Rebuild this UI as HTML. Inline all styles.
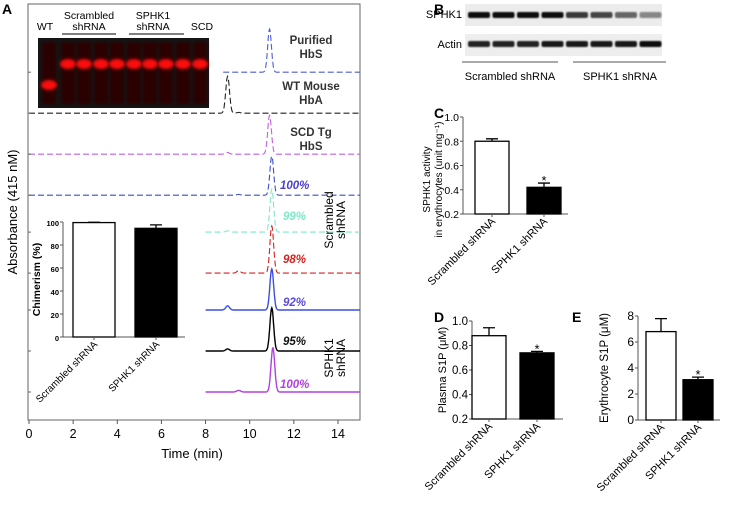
<!DOCTYPE html>
<html><head><meta charset="utf-8"><style>
html,body{margin:0;padding:0;background:#fff;}
svg{display:block;font-family:"Liberation Sans",Arial,sans-serif;}
</style></head><body>
<svg id="fig" width="756" height="506" viewBox="0 0 756 506" xmlns="http://www.w3.org/2000/svg">
<defs>
<filter id="blur" x="-50%" y="-50%" width="200%" height="200%"><feGaussianBlur stdDeviation="1.6"/></filter>
<filter id="blur2" x="-20%" y="-50%" width="140%" height="200%"><feGaussianBlur stdDeviation="0.9"/></filter>
</defs>
<g id="panelA">
<text x="2" y="14" font-size="14" font-weight="bold">A</text>
<rect x="28" y="4" width="332" height="416" fill="none" stroke="#666" stroke-width="1"/>
<text transform="translate(17,212) rotate(-90)" text-anchor="middle" font-size="13">Absorbance (415 nM)</text>
<text x="192" y="458" text-anchor="middle" font-size="13">Time (min)</text>
<g id="gel">
<rect x="38" y="38" width="171" height="70" fill="#151515"/>
</g>
<text x="45" y="30" text-anchor="middle" font-size="10.5">WT</text>
<text x="89" y="19" text-anchor="middle" font-size="10.5">Scrambled</text>
<text x="89" y="30" text-anchor="middle" font-size="10.5">shRNA</text>
<line x1="62" y1="34" x2="116" y2="34" stroke="#000"/>
<text x="153" y="19" text-anchor="middle" font-size="10.5">SPHK1</text>
<text x="153" y="30" text-anchor="middle" font-size="10.5">shRNA</text>
<line x1="129" y1="34" x2="184" y2="34" stroke="#000"/>
<text x="202" y="30" text-anchor="middle" font-size="10.5">SCD</text>
<g id="traces"></g>
<g id="xticks"></g>
<g font-size="11.5" font-weight="bold" text-anchor="middle" fill="#333">
<text x="311" y="44">Purified</text>
<text x="311" y="58">HbS</text>
<text x="311" y="90">WT Mouse</text>
<text x="311" y="104">HbA</text>
<text x="311" y="136">SCD Tg</text>
<text x="311" y="150">HbS</text>
</g>
<g font-size="11.5" font-weight="bold" font-style="italic">
<text x="280" y="189" fill="#4a3fd0">100%</text>
<text x="283" y="220" fill="#7ee8c8">99%</text>
<text x="283" y="263" fill="#d42020">98%</text>
<text x="283" y="306" fill="#5a4be0">92%</text>
<text x="283" y="345" fill="#111">95%</text>
<text x="280" y="388" fill="#b040e0">100%</text>
</g>
<text transform="translate(333,220) rotate(-90)" text-anchor="middle" font-size="12"><tspan x="0" dy="0">Scrambled</tspan><tspan x="0" dy="12">shRNA</tspan></text>
<text transform="translate(333,358) rotate(-90)" text-anchor="middle" font-size="12"><tspan x="0" dy="0">SPHK1</tspan><tspan x="0" dy="12">shRNA</tspan></text>
<g id="inset"></g>
</g>
<g id="panelB">
<text x="434" y="14" font-size="14" font-weight="bold">B</text>
<text x="462" y="18" text-anchor="end" font-size="11">SPHK1</text>
<text x="462" y="48" text-anchor="end" font-size="11">Actin</text>
<rect x="465" y="4" width="197" height="22" fill="#ececec"/>
<rect x="465" y="34" width="197" height="22" fill="#eeeeee"/>
<g id="bands"></g>
<line x1="462" y1="62" x2="558" y2="62" stroke="#555"/>
<line x1="573" y1="62" x2="666" y2="62" stroke="#555"/>
<text x="510" y="80" text-anchor="middle" font-size="11">Scrambled shRNA</text>
<text x="620" y="80" text-anchor="middle" font-size="11">SPHK1 shRNA</text>
</g>
<text x="434" y="118" font-size="14" font-weight="bold">C</text>
<text x="434" y="322" font-size="14" font-weight="bold">D</text>
<text x="572" y="322" font-size="14" font-weight="bold">E</text>
<g id="barC"></g><g id="barD"></g><g id="barE"></g>
</svg>
<script>
// ---- Panel A chromatogram data ----
const traceNames = ['purified-hbs','wt-mouse-hba','scd-tg-hbs','scr-100','scr-99','scr-98','sphk1-92','sphk1-95','sphk1-100'];
const traceOffsets = [0.78,0.68,0.58,0.48,0.39,0.29,0.20,0.10,0.0];
const tracePeakTime = [10.9,9.0,10.9,11.0,11.0,11.0,11.0,11.0,11.05];
const tracePeakHeight = [0.105,0.090,0.095,0.095,0.105,0.115,0.100,0.105,0.108];
const traceStart = [8.8,0,0,0,8,8,8,8,8];
const traceMinorTime = [9.5,9.5,9.0,9.5,9.0,9.5,9.0,9.0,9.5];
const traceMinorHeight = [0,0.002,0.004,0.002,0.003,0.006,0.010,0.005,0.004];
const traceColors = ['#4a5fd0','#222','#c060e0','#3a4fc8','#7ee8c8','#d42020','#3a4fe0','#000','#b040e0'];
const traceDashed = [1,1,1,1,1,1,0,0,0];
const xTicks = [0,2,4,6,8,10,12,14];
// inset
const insetCats = ['Scrambled shRNA','SPHK1 shRNA'];
const insetVals = [99.5,94.5];
const insetErr = [0.3,3];
const insetTicks = [0,20,40,60,80,100];
// C/D/E
const catsCDE = ['Scrambled shRNA','SPHK1 shRNA'];
const valsC = [0.80,0.42], errC=[0.02,0.035], ticksC=[0.2,0.4,0.6,0.8,1.0];
const valsD = [0.88,0.74], errD=[0.065,0.012], ticksD=[0.2,0.4,0.6,0.8,1.0];
const valsE = [6.8,3.1], errE=[1.0,0.2], ticksE=[0,2,4,6,8];
const sphk1Band = [1,1,1,1,0.8,0.75,0.6,0.45];
const actinBand = [0.9,0.9,0.9,0.95,0.95,0.95,0.95,1];

const NS='http://www.w3.org/2000/svg';
function mk(t,a,p){const e=document.createElementNS(NS,t);for(const k in a)e.setAttribute(k,a[k]);p.appendChild(e);return e;}
const xA=t=>29+t*22.07;
const yA=v=>392-v*410;

const tg=document.getElementById('traces');
traceNames.forEach((n,i)=>{
  let d='';
  for(let t=traceStart[i];t<=15;t+=0.02){
    const g=tracePeakHeight[i]*Math.exp(-Math.pow((t-tracePeakTime[i])/0.12,2))+traceMinorHeight[i]*Math.exp(-Math.pow((t-traceMinorTime[i])/0.12,2));
    d+=(d?'L':'M')+xA(t).toFixed(1)+','+yA(traceOffsets[i]+g).toFixed(1);
  }
  const p=mk('path',{d:d,fill:'none',stroke:traceColors[i],'stroke-width':traceDashed[i]?1.1:1.4,'stroke-dasharray':traceDashed[i]?'6,3':'none'},tg);
  
  
  const tk=mk('line',{x1:28,x2:31,y1:yA(traceOffsets[i]),y2:yA(traceOffsets[i]),stroke:'#666'},tg);
  
  
});
const xg=document.getElementById('xticks');
xTicks.forEach(v=>{
  const l=mk('line',{x1:xA(v),x2:xA(v),y1:420,y2:424,stroke:'#555'},xg);
  
  
  const t=mk('text',{x:xA(v),y:438,'text-anchor':'middle','font-size':12.5},xg);
  t.textContent=v;
  
  
});
// gel bands
const gel=document.getElementById('gel');
const laneX=[49,68,84,101,117,134,150,166,183,200];
laneX.forEach((x,i)=>{
  const s=mk('rect',{x:x-7,y:42,width:14,height:62,fill:'#2a0505',filter:'url(#blur)'},gel);
  
  
  const b=mk('ellipse',{cx:x,cy:i==0?85:64,rx:8,ry:5,fill:'#ff1010',filter:'url(#blur)'},gel);
  
  
});
// blot bands
const bg=document.getElementById('bands');
for(let i=0;i<8;i++){
  const x=468+i*24.5;
  const a=mk('rect',{x:x,y:12,width:22,height:6,rx:2,fill:'#111',opacity:sphk1Band[i],filter:'url(#blur2)'},bg);
  
  
  const b=mk('rect',{x:x,y:41,width:22,height:6,rx:2,fill:'#111',opacity:actinBand[i],filter:'url(#blur2)'},bg);
  
  
}
// generic bar chart
function bars(g,o){
  const y=v=>o.y0-(v-o.vmin)/(o.vmax-o.vmin)*(o.y0-o.y1);
  const ax=mk('path',{d:`M${o.x0},${o.y1}V${o.y0}H${o.x2}`,fill:'none',stroke:'#555','stroke-width':1},g);
  
  
  o.ticks.forEach(v=>{
    const l=mk('line',{x1:o.x0-3,x2:o.x0,y1:y(v),y2:y(v),stroke:'#555'},g);
    
    
    const t=mk('text',{x:o.x0-4,y:y(v)+4,'text-anchor':'end','font-size':o.fs,'font-weight':o.bold?'bold':'normal'},g);
    t.textContent=o.fmt(v);
    
    
  });
  o.vals.forEach((v,i)=>{
    const bx=o.bx[i];
    const r=mk('rect',{x:bx,y:y(v),width:o.bw,height:o.y0-y(v),fill:i?'#000':'#fff',stroke:'#000','stroke-width':1.3},g);
    
    
    const cx=bx+o.bw/2, ye=y(v+o.err[i]);
    const e=mk('path',{d:`M${cx},${y(v)}V${ye}M${cx-6},${ye}H${cx+6}`,stroke:'#000','stroke-width':1.3,fill:'none'},g);
    
    
    const tk=mk('line',{x1:cx,x2:cx,y1:o.y0,y2:o.y0+3,stroke:'#555'},g);
    
    
    const t=mk('text',{transform:`translate(${cx+4},${o.y0+8}) rotate(-45)`,'text-anchor':'end','font-size':o.cfs},g);
    t.textContent=o.cats[i];
    
    
    if(i&&o.star){
      const s=mk('text',{x:cx,y:ye+2,'text-anchor':'middle','font-size':13},g);
      s.textContent='*';
      
      
    }
  });
  o.title.forEach((tt,k)=>{
    const t=mk('text',{transform:`translate(${o.tx+k*12},${(o.y0+o.y1)/2+(o.tdy||0)}) rotate(-90)`,'text-anchor':'middle','font-size':o.tfs,'font-weight':o.bold?'bold':'normal'},g);
    t.textContent=tt;
    
    
  });
}
bars(document.getElementById('inset'),{name:'inset',vals:insetVals,err:insetErr,cats:insetCats,ticks:insetTicks,vmin:0,vmax:100,x0:63,x2:185,y0:337,y1:222,bx:[73,135],bw:42,fs:7.5,cfs:10,bold:1,fmt:v=>v,title:['Chimerism (%)'],tx:40,tfs:10.5,star:0});
bars(document.getElementById('barC'),{name:'panel-c',vals:valsC,err:errC,cats:catsCDE,ticks:ticksC,vmin:0.2,vmax:1.0,x0:463,x2:568,y0:214,y1:117,bx:[475,527],bw:34,fs:10.5,cfs:11,fmt:v=>v.toFixed(1),title:['SPHK1 activity','in erythrocytes (unit mg⁻¹)'],tx:430,tfs:10,tdy:14,star:1});
bars(document.getElementById('barD'),{name:'panel-d',vals:valsD,err:errD,cats:catsCDE,ticks:ticksD,vmin:0.2,vmax:1.0,x0:472,x2:563,y0:419,y1:321,bx:[472,520],bw:34,fs:11.5,cfs:11,fmt:v=>v.toFixed(1),title:['Plasma S1P (μM)'],tx:446,tfs:11,star:1});
bars(document.getElementById('barE'),{name:'panel-e',vals:valsE,err:errE,cats:catsCDE,ticks:ticksE,vmin:0,vmax:8,x0:638,x2:720,y0:420,y1:316,bx:[646,683],bw:30,fs:12,cfs:11,fmt:v=>v,title:['Erythrocyte S1P (μM)'],tx:608,tfs:11.5,star:1});
</script>
</body></html>
